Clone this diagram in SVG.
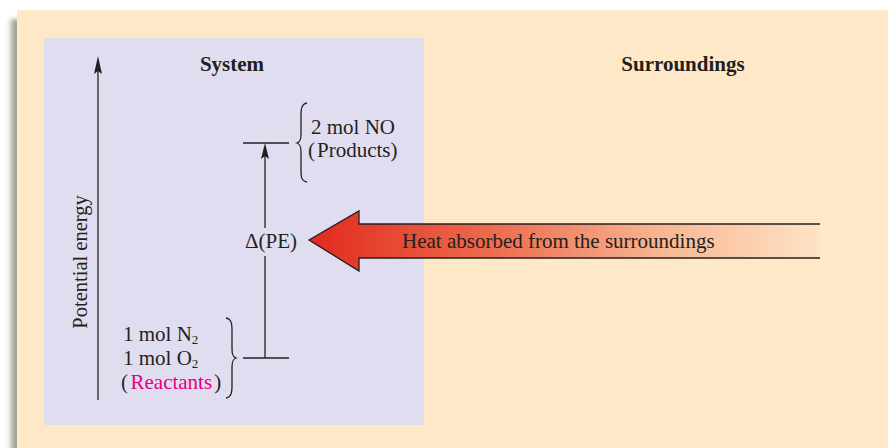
<svg xmlns="http://www.w3.org/2000/svg" width="888" height="448" viewBox="0 0 888 448">
<defs>
<linearGradient id="heat" x1="309" y1="0" x2="820" y2="0" gradientUnits="userSpaceOnUse">
<stop offset="0" stop-color="#E12A1E"/>
<stop offset="0.35" stop-color="#EC6A4C"/>
<stop offset="0.7" stop-color="#F8B894"/>
<stop offset="1" stop-color="#FEE3C6"/>
</linearGradient>
<linearGradient id="shadow" x1="0" y1="0" x2="1" y2="0">
<stop offset="0" stop-color="#ffffff" stop-opacity="0"/>
<stop offset="0.5" stop-color="#A6A69C"/>
<stop offset="1" stop-color="#96968C"/>
</linearGradient>
<filter id="blur" x="-50%" y="-10%" width="200%" height="120%"><feGaussianBlur stdDeviation="2"/></filter>
</defs>
<style>
.t{font-family:"Liberation Serif","Times New Roman",serif;font-size:21px;fill:#231F20}
.b{font-weight:bold}
.ln{stroke:#231F20;stroke-width:1.3;fill:none}
.sub{font-size:13px}
</style>
<rect width="888" height="448" fill="#ffffff"/>
<rect x="6" y="19" width="14" height="440" fill="url(#shadow)" filter="url(#blur)"/>
<rect x="17" y="10" width="871" height="438" fill="#FEE8C8"/>
<g id="system-box"><rect x="44" y="38" width="380" height="387" fill="#E0DDF0"/></g>
<g id="labels">
<text class="t b" x="232" y="71" text-anchor="middle">System</text>
<text class="t b" x="683" y="71" text-anchor="middle">Surroundings</text>
<text class="t" style="font-size:20.5px" transform="translate(87,262) rotate(-90)" text-anchor="middle">Potential energy</text>
</g>
<g id="connectors">
<line class="ln" x1="98" y1="400" x2="98" y2="66"/>
<path d="M98,56 L102,74 L98,71 L94,74 Z" fill="#231F20"/>
<line class="ln" x1="265" y1="358" x2="265" y2="256"/>
<line class="ln" x1="265" y1="228" x2="265" y2="152"/>
<path d="M265,143 L269,159 L265,156 L261,159 Z" fill="#231F20"/>
</g>
<g id="products">
<line class="ln" x1="243" y1="143" x2="289" y2="143"/>
<path class="ln" d="M307,103 C301,104 301,110 301,116 L301,134 C301,140 300,142 297,143 C300,144 301,146 301,152 L301,170 C301,176 301,181 307,182"/>
<text class="t" x="311" y="134">2 mol NO</text>
<text class="t" x="308" y="157">(<tspan dx="2">Products)</tspan></text>
</g>
<g id="reactants">
<line class="ln" x1="243" y1="358" x2="289" y2="358"/>
<path class="ln" d="M226,318 C232,319 232,325 232,331 L232,349 C232,355 233,357 236,358 C233,359 232,361 232,367 L232,385 C232,391 232,397 226,398"/>
<text class="t" x="123" y="341">1 mol N<tspan class="sub" dy="3">2</tspan></text>
<text class="t" x="123" y="365">1 mol O<tspan class="sub" dy="3">2</tspan></text>
<text class="t" x="121" y="389">(<tspan dx="2.5" fill="#E6007E">Reactants</tspan><tspan dx="2">)</tspan></text>
</g>
<g id="delta-pe">
<text class="t" x="271" y="248" text-anchor="middle">Δ(PE)</text>
</g>
<g id="heat-arrow">
<path d="M820,224 L359,224 L359,211 L309,240 L359,271 L359,258 L820,258 Z" fill="url(#heat)"/>
<path class="ln" d="M820,224 L359,224 L359,211 L309,240 L359,271 L359,258 L820,258"/>
<text class="t" x="402" y="248">Heat absorbed from the surroundings</text>
</g>
</svg>
